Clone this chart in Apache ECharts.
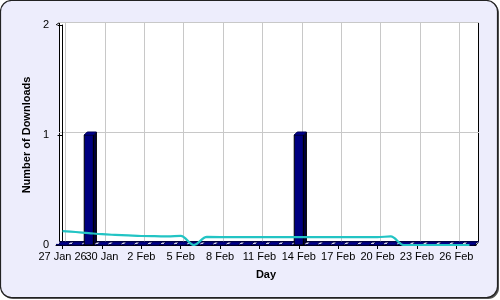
<!DOCTYPE html>
<html>
<head>
<meta charset="utf-8">
<script src="https://cdn.jsdelivr.net/npm/echarts@6/dist/echarts.min.js"></script>
<style>html,body{margin:0;padding:0;background:#fff;}#c{width:500px;height:300px;}</style>
</head>
<body>
<div id="c"></div>
<script>
// Day index 0 = 27 Jan 26 ... 31 = 27 Feb
const dayIndex = [0,1,2,3,4,5,6,7,8,9,10,11,12,13,14,15,16,17,18,19,20,21,22,23,24,25,26,27,28,29,30,31];
const downloads = [0,0,1,0,0,0,0,0,0,0,0,0,0,0,0,0,0,0,1,0,0,0,0,0,0,0,0,0,0,0,0,0];
const average = [0.127,0.118,0.108,0.098,0.092,0.087,0.082,0.080,0.079,0.083,0,0.073,0.072,0.072,0.072,0.072,0.072,0.072,0.072,0.072,0.072,0.072,0.072,0.072,0.072,0.078,0,0,0,0,0,0];
const tickDays = [0,3,6,9,12,15,18,21,24,27,30];
const tickLabels = ['27 Jan 26','30 Jan','2 Feb','5 Feb','8 Feb','11 Feb','14 Feb','17 Feb','20 Feb','23 Feb','26 Feb'];
const yTicks = [0,1,2];
const FONT = 'Liberation Sans';
const chart = echarts.init(document.getElementById('c'), null, {renderer:'canvas'});
const D = 3; // 3D depth in px
function bar3d(params, api) {
  const x = api.value(0), v = api.value(1);
  const base = api.coord([x, 0]);
  const top = api.coord([x, v]);
  const pitch = api.size([1, 0])[0];
  const w = pitch * 0.7;
  const x0 = base[0] - w / 2, x1 = base[0] + w / 2;
  const y0 = base[1], y1 = top[1];
  const children = [];
  children.push({type:'line', shape:{x1:base[0]-pitch/2, y1:y0-0.5, x2:base[0]+pitch/2, y2:y0-0.5}, style:{stroke:'#000070', lineWidth:1.2}});
  children.push({type:'line', shape:{x1:base[0]-pitch/2+D, y1:y0-D, x2:base[0]+pitch/2+D, y2:y0-D}, style:{stroke:'#000070', lineWidth:1}});
  if (y0 - y1 > 0.5) {
    children.push({type:'rect', shape:{x:x0, y:y1, width:w, height:y0-y1}, style:{fill:'#000080', stroke:'#000', lineWidth:1}});
    children.push({type:'polygon', shape:{points:[[x1,y1],[x1+D,y1-D],[x1+D,y0-D],[x1,y0]]}, style:{fill:'#00003a', stroke:'#000', lineWidth:1}});
  }
  children.push({type:'polygon', shape:{points:[[x0,y1],[x1,y1],[x1+D,y1-D],[x0+D,y1-D]]}, style:{fill:'#000090', stroke:'#000050', lineWidth:1}});
  return {type:'group', children};
}
const option = {
  animation: false,
  backgroundColor: '#fff',
  graphic: [
    {type:'rect', z:-10, shape:{x:2, y:2, width:497, height:297, r:11}, style:{fill:'#555'}},
    {type:'rect', z:-9, shape:{x:0.5, y:0.5, width:497, height:297, r:11}, style:{fill:'#ededfc', stroke:'#222', lineWidth:1.2}},
    {type:'rect', z:-8, shape:{x:59.5, y:22.5, width:419, height:219}, style:{fill:'#fff', stroke:'#000', lineWidth:1}},
    {type:'polyline', z:-7, shape:{points:[[56,25],[59.5,22.5]]}, style:{stroke:'#000', lineWidth:1}},
    {type:'polyline', z:-7, shape:{points:[[476,245],[478.5,242]]}, style:{stroke:'#000', lineWidth:1}}
  ],
  grid: [
    {left:56, right:24, top:25, bottom:55, show:false},
    {left:59, right:21, top:22, bottom:58, show:false}
  ],
  xAxis: [
    {gridIndex:0, type:'value', min:-0.5, max:31.5, position:'bottom',
     name:'Day', nameLocation:'middle', nameGap:24,
     nameTextStyle:{fontFamily:FONT, fontSize:11, fontWeight:'bold', color:'#000'},
     axisLine:{show:true, onZero:false, lineStyle:{color:'#000', width:1}},
     axisTick:{show:true, length:4, customValues:tickDays, lineStyle:{color:'#000'}},
     axisLabel:{customValues:tickDays.slice(1), margin:6, fontFamily:FONT, fontSize:11, color:'#000',
       formatter:(v)=>tickLabels[tickDays.indexOf(Math.round(v))] || ''},
     splitLine:{show:false}},
    {gridIndex:0, type:'value', min:-0.5, max:31.5, position:'bottom', offset:0,
     axisLine:{show:false}, axisTick:{show:false},
     axisLabel:{customValues:tickDays.slice(0,1), margin:6, fontFamily:FONT, fontSize:11, color:'#000',
       formatter:(v)=>tickLabels[tickDays.indexOf(Math.round(v))] || ''},
     splitLine:{show:false}},
    {gridIndex:1, type:'value', min:-0.5, max:31.5,
     axisLine:{show:false}, axisLabel:{show:false},
     axisTick:{show:false, customValues:tickDays},
     splitLine:{show:true, lineStyle:{color:'#c8c8c8', width:1}}}
  ],
  yAxis: [
    {gridIndex:0, type:'value', min:0, max:2, interval:1,
     name:'Number of Downloads', nameLocation:'middle', nameGap:13,
     nameTextStyle:{fontFamily:FONT, fontSize:11, fontWeight:'bold', color:'#000'},
     axisLine:{show:true, lineStyle:{color:'#000', width:1}},
     axisTick:{show:true, length:5, lineStyle:{color:'#000'}},
     axisLabel:{margin:7, fontFamily:FONT, fontSize:11, color:'#000', formatter:(v)=>String(yTicks[yTicks.indexOf(v)])},
     splitLine:{show:false}},
    {gridIndex:1, type:'value', min:0, max:2, interval:1,
     axisLine:{show:false}, axisLabel:{show:false}, axisTick:{show:false},
     splitLine:{show:true, lineStyle:{color:'#c8c8c8', width:1}}}
  ],
  series: [
    {type:'custom', xAxisIndex:0, yAxisIndex:0, z:3, data: dayIndex.map((d,i)=>[d, downloads[i]]), renderItem: bar3d},
    {type:'line', xAxisIndex:0, yAxisIndex:0, z:4, smooth:0.35, symbol:'none', lineStyle:{color:'#22c4c4', width:2.2},
     data: dayIndex.map((d,i)=>[d, average[i]])}
  ]
};
chart.setOption(option);
</script>
</body>
</html>
